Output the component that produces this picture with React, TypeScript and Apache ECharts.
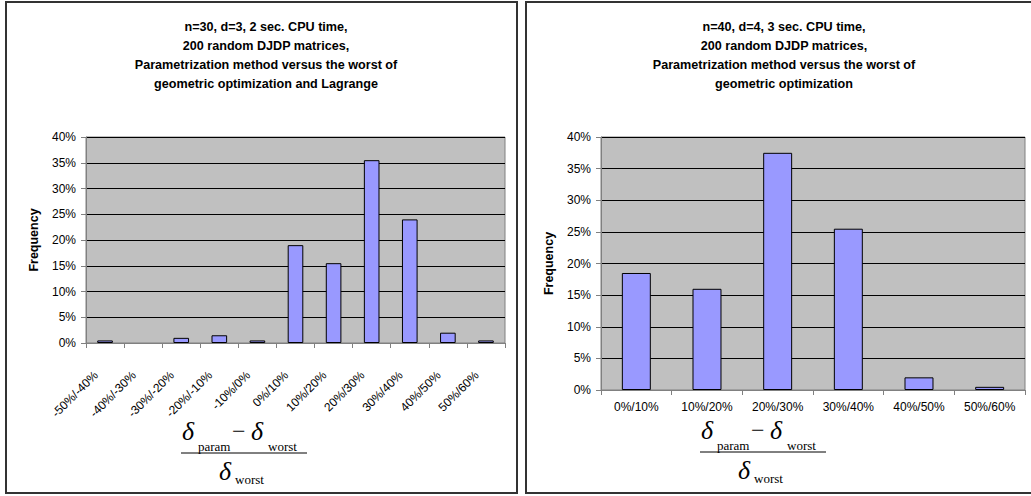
import React, { useEffect, useRef } from "react";
import * as echarts from "echarts";

// Histogram of relative differences (in %), 200 random DJDP matrices per panel
const leftCategories = [
  "-50%/-40%", "-40%/-30%", "-30%/-20%", "-20%/-10%", "-10%/0%",
  "0%/10%", "10%/20%", "20%/30%", "30%/40%", "40%/50%", "50%/60%",
];
const leftFrequency = [0.5, 0, 1, 1.5, 0.5, 19, 15.5, 35.5, 24, 2, 0.5];

const rightCategories = ["0%/10%", "10%/20%", "20%/30%", "30%/40%", "40%/50%", "50%/60%"];
const rightFrequency = [18.5, 16, 37.5, 25.5, 2, 0.5];

const leftTitle = [
  "n=30, d=3, 2 sec. CPU time,",
  "200 random DJDP matrices,",
  "Parametrization method versus the worst of",
  "geometric optimization and Lagrange",
].join("\n");
const rightTitle = [
  "n=40, d=4, 3 sec. CPU time,",
  "200 random DJDP matrices,",
  "Parametrization method versus the worst of",
  "geometric optimization",
].join("\n");

const SANS = "Arial, 'Liberation Sans', sans-serif";
const SERIF = "'Times New Roman', 'Liberation Serif', serif";

function formula(cx: number, lineY: number) {
  // (δ_param − δ_worst) / δ_worst drawn as a stacked fraction
  const big = { fontFamily: SERIF, fontStyle: "italic", fontSize: 26, lineHeight: 20, fill: "#000", textVerticalAlign: "middle" };
  const sub = { fontFamily: SERIF, fontSize: 13, lineHeight: 12, fill: "#000", textVerticalAlign: "middle" };
  return {
    type: "group",
    children: [
      { type: "text", x: cx - 62, y: lineY - 22, style: { ...big, text: "δ" } },
      { type: "text", x: cx - 46, y: lineY - 7, style: { ...sub, text: "param" } },
      { type: "text", x: cx - 12, y: lineY - 22, style: { ...big, fontStyle: "normal", fontSize: 24, text: "−" } },
      { type: "text", x: cx + 7, y: lineY - 22, style: { ...big, text: "δ" } },
      { type: "text", x: cx + 24, y: lineY - 7, style: { ...sub, text: "worst" } },
      { type: "line", shape: { x1: cx - 63, y1: lineY, x2: cx + 63, y2: lineY }, style: { stroke: "#000", lineWidth: 1 } },
      { type: "text", x: cx - 25, y: lineY + 18, style: { ...big, text: "δ" } },
      { type: "text", x: cx - 9, y: lineY + 26, style: { ...sub, text: "worst" } },
    ],
  };
}

// a zero-height bar leaves no trace
function bars(values: number[]) {
  return values.map((v) => (v === 0 ? { value: v, itemStyle: { borderWidth: 0 } } : v));
}

export default function App() {
  const ref = useRef<HTMLDivElement>(null);

  useEffect(() => {
    document.body.style.margin = "0";
    const chart = echarts.init(ref.current!, undefined, { renderer: "svg" });

    const yAxisBase = {
      type: "value",
      min: 0,
      max: 40,
      interval: 5,
      name: "Frequency",
      nameLocation: "middle",
      nameRotate: 90,
      nameTextStyle: { fontFamily: SANS, fontSize: 12.5, fontWeight: "bold", color: "#000" },
      axisLine: { show: true, lineStyle: { color: "#808080", width: 1 } },
      axisTick: { show: true, length: 5, lineStyle: { color: "#808080" } },
      axisLabel: { formatter: "{value}%", fontFamily: SANS, fontSize: 12, color: "#000", margin: 10 },
      splitLine: { show: true, lineStyle: { color: "#000", width: 1 } },
    };
    const xAxisBase = {
      type: "category",
      axisLine: { show: true, lineStyle: { color: "#808080", width: 1 } },
      axisTick: { show: true, length: 5, alignWithLabel: false, lineStyle: { color: "#808080" } },
      axisLabel: { fontFamily: SANS, fontSize: 12, color: "#000", interval: 0 },
      splitLine: { show: false },
    };
    const barStyle = { color: "#9999FF", borderColor: "#000", borderWidth: 1 };
    const titleStyle = { fontFamily: SANS, fontSize: 12.6, fontWeight: "bold", color: "#000", lineHeight: 19 };

    chart.setOption({
      animation: false,
      title: [
        { text: leftTitle, left: 261, top: 12, textAlign: "center", textStyle: titleStyle },
        { text: rightTitle, left: 779, top: 12, textAlign: "center", textStyle: titleStyle },
      ],
      grid: [
        { left: 86, top: 137, width: 419, height: 206, show: true, backgroundColor: "#C0C0C0", borderColor: "#808080", borderWidth: 1 },
        { left: 601, top: 137, width: 424, height: 253, show: true, backgroundColor: "#C0C0C0", borderColor: "#808080", borderWidth: 1 },
      ],
      xAxis: [
        {
          ...xAxisBase,
          gridIndex: 0,
          data: leftCategories,
          axisLabel: { ...xAxisBase.axisLabel, rotate: 45, margin: 21, padding: [0, 13, 0, 0] },
        },
        { ...xAxisBase, gridIndex: 1, data: rightCategories, axisLabel: { ...xAxisBase.axisLabel, margin: 11 } },
      ],
      yAxis: [
        { ...yAxisBase, gridIndex: 0, nameGap: 46 },
        { ...yAxisBase, gridIndex: 1, nameGap: 46 },
      ],
      series: [
        { type: "bar", xAxisIndex: 0, yAxisIndex: 0, data: bars(leftFrequency), barWidth: "41%", itemStyle: barStyle },
        { type: "bar", xAxisIndex: 1, yAxisIndex: 1, data: bars(rightFrequency), barWidth: "41%", itemStyle: barStyle },
      ],
      graphic: [
        { type: "rect", shape: { x: 6, y: 2, width: 511, height: 491 }, style: { fill: "none", stroke: "#333", lineWidth: 2 } },
        { type: "rect", shape: { x: 526, y: 2, width: 520, height: 491 }, style: { fill: "none", stroke: "#333", lineWidth: 2 } },
        formula(244, 453),
        formula(763, 452),
      ],
    });

    return () => chart.dispose();
  }, []);

  return <div ref={ref} style={{ width: 1031, height: 496 }} />;
}
